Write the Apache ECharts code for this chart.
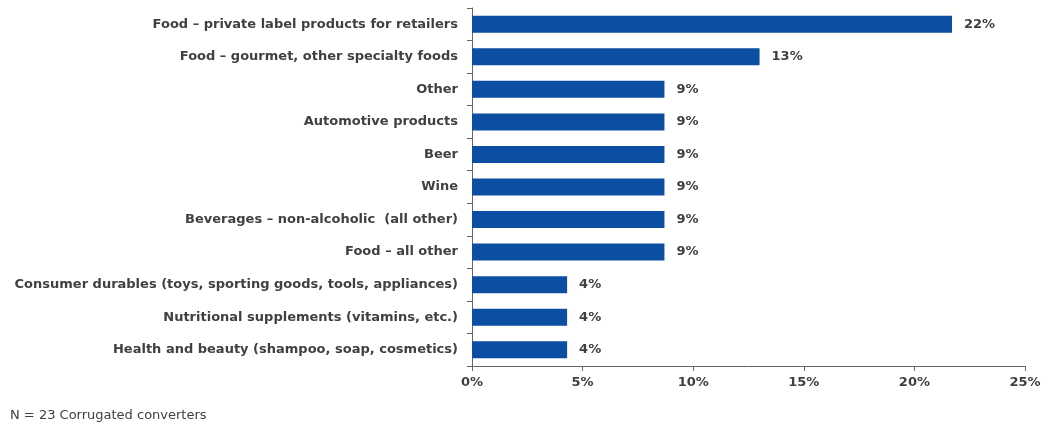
<!DOCTYPE html>
<html>
<head>
<meta charset="utf-8">
<script src="https://cdn.jsdelivr.net/npm/echarts@6/dist/echarts.min.js"></script>
<style>
  html, body { margin: 0; padding: 0; background: #fff; }
  #chart { width: 1048px; height: 425px; }
</style>
</head>
<body>
<div id="chart"></div>
<script>
// Share of corrugated converters by end-use segment (N = 23), top to bottom
const categories = [
  'Food \u2013 private label products for retailers',
  'Food \u2013 gourmet, other specialty foods',
  'Other',
  'Automotive products',
  'Beer',
  'Wine',
  'Beverages \u2013 non-alcoholic  (all other)',
  'Food \u2013 all other',
  'Consumer durables (toys, sporting goods, tools, appliances)',
  'Nutritional supplements (vitamins, etc.)',
  'Health and beauty (shampoo, soap, cosmetics)'
];
const shares = [21.7, 13.0, 8.7, 8.7, 8.7, 8.7, 8.7, 8.7, 4.3, 4.3, 4.3];
const xTicks = [0, 5, 10, 15, 20, 25];
const footnote = 'N = 23 Corrugated converters';

const FONT = '"DejaVu Sans", Verdana, sans-serif';
const TEXT = '#404040';
const AXIS = '#666666';

const chart = echarts.init(document.getElementById('chart'));
chart.setOption({
  animation: false,
  grid: { left: 472, right: 23, top: 8, bottom: 59, containLabel: false },
  xAxis: {
    type: 'value',
    min: xTicks[0],
    max: xTicks[xTicks.length - 1],
    interval: xTicks[1] - xTicks[0],
    axisLine: { show: true, lineStyle: { color: AXIS, width: 1 } },
    axisTick: { show: true, length: 5, lineStyle: { color: AXIS } },
    splitLine: { show: false },
    axisLabel: {
      formatter: v => v + '%',
      color: TEXT, fontFamily: FONT, fontWeight: 'bold', fontSize: 13, margin: 10
    }
  },
  yAxis: {
    type: 'category',
    inverse: true,
    data: categories,
    axisLine: { show: true, lineStyle: { color: AXIS, width: 1 } },
    axisTick: { show: true, length: 5, alignWithLabel: false, lineStyle: { color: AXIS } },
    axisLabel: {
      color: TEXT, fontFamily: FONT, fontWeight: 'bold', fontSize: 13, margin: 14
    }
  },
  series: [{
    type: 'bar',
    data: shares,
    barWidth: 17,
    itemStyle: { color: '#0b4ea2' },
    label: {
      show: true,
      position: 'right',
      distance: 12,
      formatter: p => Math.round(p.value) + '%',
      color: TEXT, fontFamily: FONT, fontWeight: 'bold', fontSize: 13
    }
  }],
  graphic: [{
    type: 'text',
    left: 10,
    top: 409,
    style: { text: footnote, fill: TEXT, font: '13px ' + FONT }
  }]
});
</script>
</body>
</html>
